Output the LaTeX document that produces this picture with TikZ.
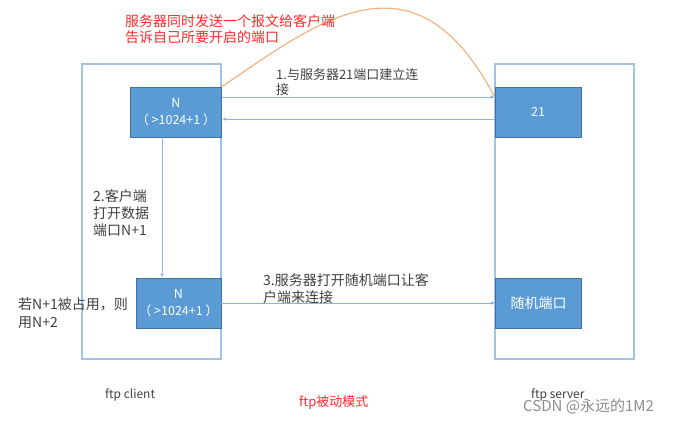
\documentclass[tikz,border=0pt]{standalone}
\usepackage{fontspec}
\setmainfont{Noto Sans CJK SC}
\usetikzlibrary{arrows.meta}
\definecolor{boxfill}{HTML}{5B9BD5}
\definecolor{boxline}{HTML}{41719C}
\definecolor{outerline}{HTML}{A4C2E4}
\definecolor{arrowline}{HTML}{8DB3E2}
\definecolor{curveline}{HTML}{F4B183}
\definecolor{txt}{HTML}{404040}
\definecolor{redtxt}{HTML}{FF2A2A}
\begin{document}
\begin{tikzpicture}[x=1pt,y=-1pt,
  outerbox/.style={draw=outerline,line width=1.3pt,inner sep=0pt},
  portbox/.style={draw=boxline,fill=boxfill,line width=0.8pt,inner sep=0pt,
    text=white,align=center},
  conn/.style={draw=arrowline,line width=1pt,-{Latex[length=4pt,width=3.5pt]}},
  lbl/.style={anchor=west,align=left,text=txt,inner sep=0pt},
]
\useasboundingbox (0,0) rectangle (693,424);
% outer boxes
\node[outerbox,minimum width=139pt,minimum height=295pt] (client) at (151.5,211.5) {};
\node[outerbox,minimum width=139pt,minimum height=295pt] (server) at (564.5,211.5) {};
% port boxes
\node[portbox,minimum width=91pt,minimum height=50pt,font=\fontsize{12.5}{17}\selectfont] (n1) at (176,112) {N\\（ >1024+1 ）};
\node[portbox,minimum width=86pt,minimum height=50pt,font=\fontsize{12.5}{15}\selectfont] (s21) at (538,112) {21};
\node[portbox,minimum width=85pt,minimum height=50pt,font=\fontsize{12.5}{17}\selectfont] (n2) at (178.5,303) {N\\（ >1024+1 ）};
\node[portbox,minimum width=86pt,minimum height=50pt,font=\fontsize{14}{15}\selectfont] (rnd) at (538.5,303) {随机端口};
% connectors
\draw[conn] ([yshift=15pt]n1.east) -- ([yshift=15pt]s21.west);
\draw[conn] ([yshift=-7pt]s21.west) -- ([yshift=-7pt]n1.east);
\draw[conn] ([xshift=-14pt]n1.south) -- ([xshift=-14pt]n1.south |- n2.north);
\draw[conn] (n2.east) -- (rnd.west);
\draw[curveline,line width=1.2pt] (n1.north east) .. controls (320,20) and (415,-55) .. ([yshift=15pt]s21.west);
% labels
\node[lbl,text=redtxt,font=\fontsize{14}{16}\selectfont] (red) at (125,29) {服务器同时发送一个报文给客户端\\告诉自己所要开启的端口};
\node[lbl,font=\fontsize{13}{15}\selectfont] (l1) at (276,82.5) {1.与服务器21端口建立连\\接};
\node[lbl,font=\fontsize{14}{17}\selectfont] (l2) at (93,213) {2.客户端\\打开数据\\端口N+1};
\node[lbl,font=\fontsize{14}{18}\selectfont] (l3) at (18,313) {若N+1被占用，则\\用N+2};
\node[lbl,font=\fontsize{14}{17}\selectfont] (l4) at (263,288.5) {3.服务器打开随机端口让客\\户端来连接};
\node[lbl,font=\fontsize{12}{14}\selectfont] (fc) at (105,395) {ftp client};
\node[lbl,font=\fontsize{12}{14}\selectfont] (fs) at (531,395) {ftp server};
\node[lbl,text=redtxt,font=\fontsize{13}{14}\selectfont] (title) at (299,403) {ftp被动模式};
\node[lbl,text=black!45,font=\fontsize{15}{16}\selectfont] (wm) at (523,406) {CSDN @永远的1M2};
\end{tikzpicture}
\end{document}
